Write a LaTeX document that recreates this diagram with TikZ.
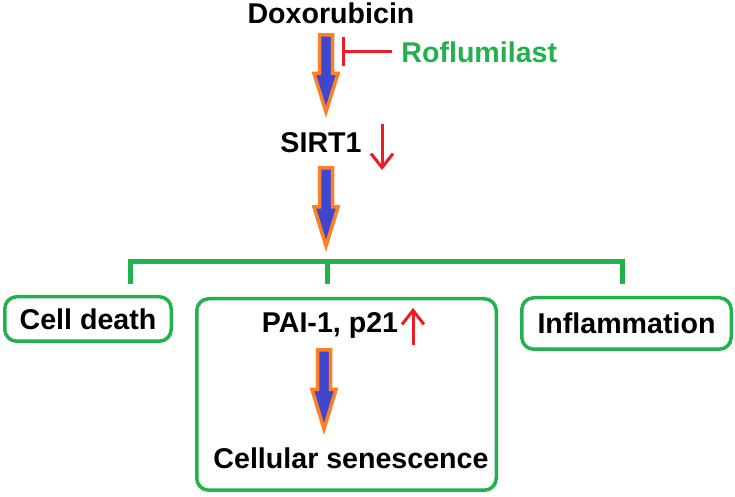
\documentclass[tikz,border=0pt]{standalone}
\usepackage{fontspec}
\setmainfont{Liberation Sans}
\usepackage{tikz}
\usetikzlibrary{calc}
\usetikzlibrary{arrows.meta}
\definecolor{paintblue}{HTML}{3F48CC}
\definecolor{paintorange}{HTML}{FF7F27}
\definecolor{paintgreen}{HTML}{22B14C}
\definecolor{paintred}{HTML}{ED1C24}
\tikzset{
    fat/.style={draw=paintorange, fill=paintblue, line width=1.75pt},
    box/.style={draw=paintgreen, line width=1.75pt, rounded corners=6pt},
    lbl/.style={font=\bfseries\fontsize{14.3}{17}\selectfont, inner sep=0pt},
    brk/.style={draw=paintgreen, line width=2.5pt},
    redarr/.style={draw=paintred, line width=1.5pt, -{Straight Barb[length=7pt,width=11pt]}},
    inhib/.style={draw=paintred, line width=1.5pt, -{Bar[width=14.5pt]}}
}
\newcommand{\fatarrow}[2]{%
    \draw[fat] let \p1=(#1), \p2=(#2), \n1={(\y1+\y2)/2} in
        (\x1-3.25pt,\y1) -- (\x1+3.25pt,\y1) -- (\x1+3.25pt,\n1) -- (\x1+6pt,\n1)
        -- (\x2,\y2) -- (\x1-6pt,\n1) -- (\x1-3.25pt,\n1) -- cycle;
}

\begin{document}
\begin{tikzpicture}[x=0.5pt,y=-0.5pt]
\useasboundingbox (0,0) rectangle (735,497);
\node (dox) at (331,13) [lbl] {Doxorubicin};
\node (rof) at (401,52) [lbl, anchor=west, text=paintgreen] {Roflumilast};
\node (sirt) at (321,143) [lbl] {SIRT1};
\node (cd) at (88,319) [box, lbl, minimum width=83.25pt, minimum height=22.25pt] {Cell death};
\node (mid) at (346.5,394.5) [box, inner sep=0pt, minimum width=149.75pt, minimum height=95.75pt] {};
\node (infl) at (626.5,323.5) [box, lbl, minimum width=104.75pt, minimum height=25.75pt] {Inflammation};
\node (pai) at (330,325) [lbl] {PAI-1, p21};
\node (sen) at (351,458) [lbl] {Cellular senescence};
\foreach \p/\x/\y in {a1s/326/35, a1e/326/112, a2s/326/168, a2e/326/246, a3s/324/350, a3e/324/429,
    inh/342/52, sd1/382/124, sd2/382/170, pu1/413/345, pu2/413/308,
    bL/130/262, bM/327/262, bR/622/262}{
    \coordinate (\p) at (\x,\y);
}
\fatarrow{a1s}{a1e}
\fatarrow{a2s}{a2e}
\fatarrow{a3s}{a3e}
\draw[inhib] ($(rof.west)+(-9,0)$) -- (inh);
\draw[redarr] (sd1) -- (sd2);
\draw[redarr] (pu1) -- (pu2);
\draw[brk] ($(bL)+(0,22)$) -- (bL) -- (bR) -- ++(0,22);
\draw[brk] (bM) -- ++(0,22);
\end{tikzpicture}
\end{document}
